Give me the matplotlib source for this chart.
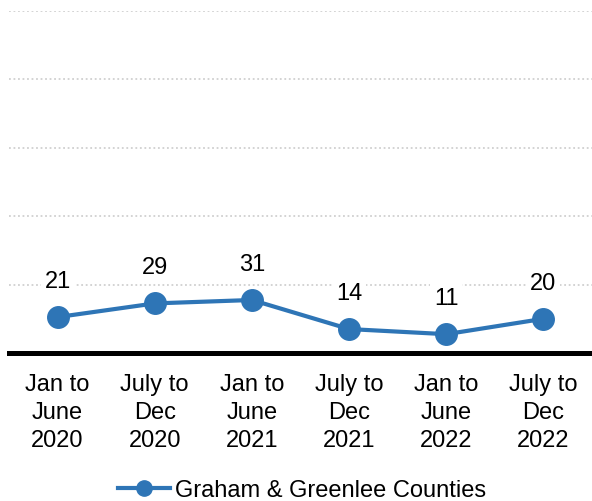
import matplotlib.pyplot as plt
from matplotlib.lines import Line2D

periods = ['Jan to\nJune\n2020', 'July to\nDec\n2020', 'Jan to\nJune\n2021',
           'July to\nDec\n2021', 'Jan to\nJune\n2022', 'July to\nDec\n2022']
counts = [21, 29, 31, 14, 11, 20]
series_name = 'Graham & Greenlee Counties'

plt.rcParams['font.family'] = ['Liberation Sans', 'DejaVu Sans']
blue = '#2E75B6'

fig = plt.figure(figsize=(5.92, 5.02), dpi=100)
ax = fig.add_axes([9 / 592, 1 - 354 / 502, 1 - 9 / 592, 342 / 502])

x = list(range(len(periods)))
ax.plot(x, counts, color=blue, linewidth=3, marker='o', markersize=15.5,
        zorder=3, clip_on=False)

for xi, v in zip(x, counts):
    ax.annotate(str(v), (xi, v), xytext=(0, 26), textcoords='offset points',
                ha='center', va='center', fontsize=17,
                bbox=dict(boxstyle='square,pad=0.15', facecolor='white', edgecolor='none'),
                zorder=4)

ax.set_xlim(-0.5, len(periods) - 0.5)
ax.set_ylim(0, 200)
ax.set_yticks([40, 80, 120, 160, 200])
ax.yaxis.grid(True, color='#D0D0D0', linestyle=(0, (1, 1.5)), linewidth=1.3, zorder=0)
ax.set_axisbelow(True)
ax.tick_params(axis='y', left=False, labelleft=False)
ax.set_xticks(x)
ax.set_xticklabels(periods, fontsize=17, linespacing=1.35)
ax.tick_params(axis='x', length=0, pad=14.5)

for side in ['top', 'right', 'left']:
    ax.spines[side].set_visible(False)
ax.spines['bottom'].set_linewidth(3.6)
ax.spines['bottom'].set_color('black')

handle = Line2D([], [], color=blue, linewidth=3, marker='o', markersize=11)
fig.legend([handle], [series_name], loc='center', bbox_to_anchor=(0.51, 1 - 491 / 502),
           frameon=False, fontsize=17, handlelength=2.2, handletextpad=0.2)

fig.savefig('out.png', dpi=100)
